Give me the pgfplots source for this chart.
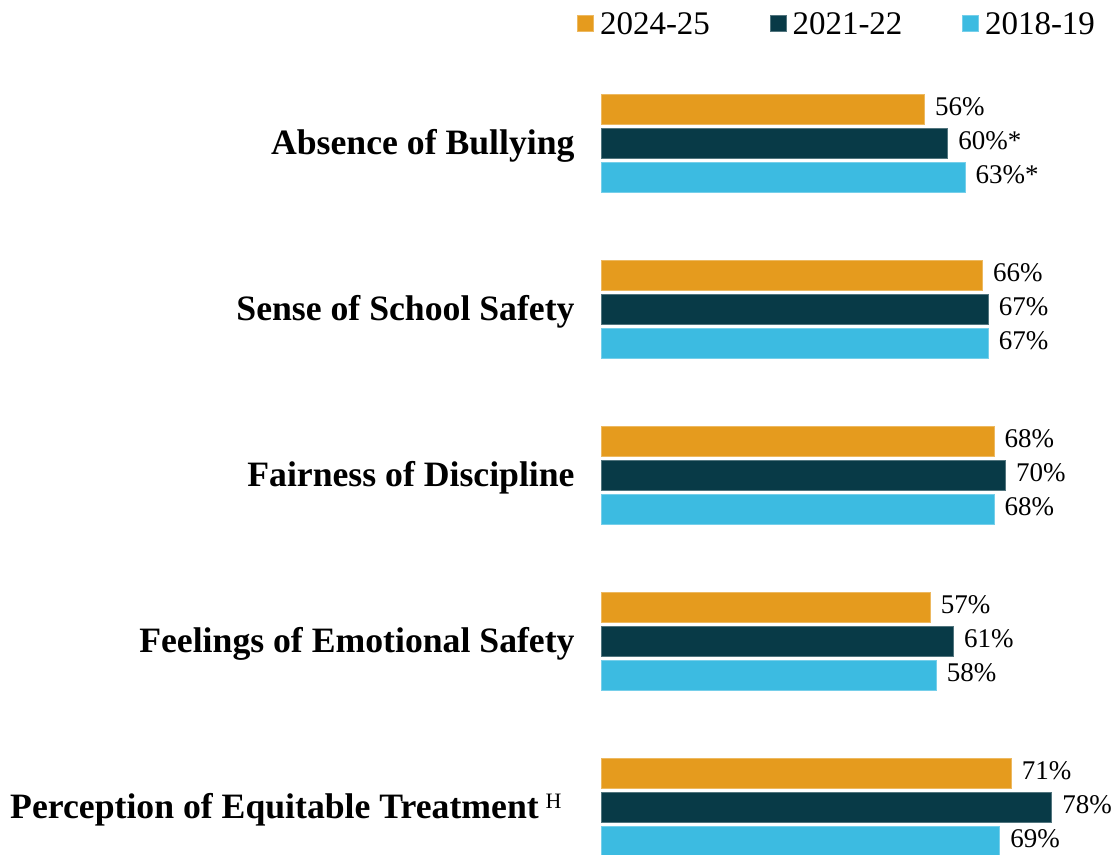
\documentclass[border=0pt]{standalone}
\usepackage{pgfplots}
\pgfplotsset{compat=1.18}
\usepackage{fontspec}
\setmainfont{Liberation Serif}
\definecolor{c1}{HTML}{E59B1E}
\definecolor{c2}{HTML}{083A47}
\definecolor{c3}{HTML}{3CBBE1}
\pgfplotsset{sqleg/.style={legend image code/.code={\draw[##1,line width=0.5pt] (0pt,-4pt) rectangle (8pt,4pt);}}}
\begin{document}
\begin{tikzpicture}
\begin{axis}[
 at={(300.5pt,0pt)}, anchor=south west,
 scale only axis, width=258pt, height=427.5pt,
 xmin=0, xmax=89.27, ymin=-0.2874, ymax=4.8647,
 xbar, bar width=15pt,
 axis line style={draw=none}, tick style={draw=none}, major tick length=0pt,
 xtick=\empty, ytick={0,1,2,3,4},
 yticklabels={{Perception of Equitable Treatment\hspace{3.5pt}\raisebox{4.6pt}{\fontsize{11}{11}\selectfont\mdseries H}\kern6.5pt\null},
   {Feelings of Emotional Safety},{Fairness of Discipline},{Sense of School Safety},{Absence of Bullying}},
 yticklabel style={font=\fontsize{17.85}{20}\selectfont\bfseries, anchor=base east, inner sep=0pt, xshift=-13pt, yshift=-5.4pt},
 clip=false,
 point meta=explicit symbolic,
 nodes near coords,
 nodes near coords style={font=\fontsize{13.5}{15}\selectfont, anchor=west, inner sep=0pt, xshift=5pt, yshift=1.2pt, text=black},
 legend columns=3,
 legend style={at={(-0.04651,0.98515)}, anchor=north west, draw=none, fill=none, inner sep=0pt, outer sep=0pt, column sep=0pt, row sep=0pt,
   nodes={inner sep=0pt, text depth=0pt, font=\fontsize{16.5}{18}\selectfont},
   /tikz/every odd column/.append style={column sep=3pt}},
]
\addplot[sqleg, fill=c1, draw=c1!70!white, line width=0.5pt, bar shift=17pt] coordinates {(56,4) [56\%] (66,3) [66\%] (68,2) [68\%] (57,1) [57\%] (71,0) [71\%]};
\addlegendentry{\makebox[84.75pt][l]{2024-25}}
\addplot[sqleg, fill=c2, draw=c2!70!white, line width=0.5pt, bar shift=0pt] coordinates {(60,4) [60\%*] (67,3) [67\%] (70,2) [70\%] (61,1) [61\%] (78,0) [78\%]};
\addlegendentry{\makebox[84.75pt][l]{2021-22}}
\addplot[sqleg, fill=c3, draw=c3!70!white, line width=0.5pt, bar shift=-17pt] coordinates {(63,4) [63\%*] (67,3) [67\%] (68,2) [68\%] (58,1) [58\%] (69,0) [69\%]};
\addlegendentry{\makebox[84.75pt][l]{2018-19}}
\end{axis}
\pgfresetboundingbox
\path[use as bounding box] (0,0) rectangle (558.5pt,427.5pt);
\end{tikzpicture}
\end{document}
